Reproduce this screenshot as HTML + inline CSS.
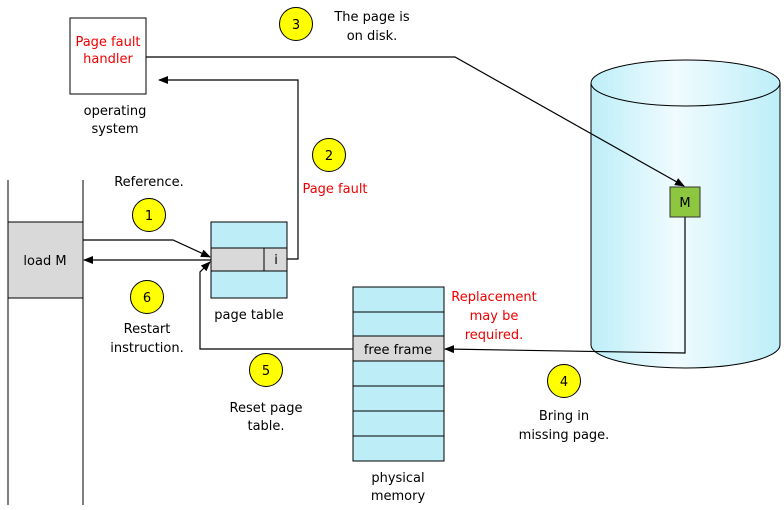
<!DOCTYPE html><html><head><style>body{margin:0;background:#fff}svg text{font-family:"DejaVu Sans","Liberation Sans",sans-serif;font-size:13px}</style></head><body>
<svg width="784" height="505" viewBox="0 0 784 505">
<defs>
<marker id="a" markerWidth="10" markerHeight="8" refX="9" refY="4" orient="auto" markerUnits="userSpaceOnUse"><path d="M0,0L10,4L0,8z" fill="#000"/></marker>
<linearGradient id="g" x1="0" x2="1"><stop offset="0" stop-color="#bdeef8"/><stop offset="0.45" stop-color="#f0fbfe"/><stop offset="1" stop-color="#bdeef8"/></linearGradient>
</defs>
<!-- cylinder -->
<path d="M591,83 L591,345 A94.5,23 0 0 0 780,345 L780,83" fill="url(#g)" stroke="#000"/>
<ellipse cx="685.5" cy="83" rx="94.5" ry="23" fill="url(#g)" stroke="#000"/>
<rect x="670" y="187" width="30" height="30" fill="#8dc63f" stroke="#333"/>
<text x="685" y="207" text-anchor="middle">M</text>
<!-- OS -->
<rect x="70" y="18" width="76" height="76" fill="#fff" stroke="#000"/>
<text x="108" y="46" text-anchor="middle" fill="#e00">Page fault</text>
<text x="108" y="63" text-anchor="middle" fill="#e00">handler</text>
<text x="115" y="115" text-anchor="middle">operating</text>
<text x="115" y="133" text-anchor="middle">system</text>
<!-- process lines -->
<line x1="8" y1="180" x2="8" y2="505" stroke="#000"/>
<line x1="83" y1="180" x2="83" y2="505" stroke="#000"/>
<rect x="8" y="222" width="75" height="76" fill="#d9d9d9" stroke="#000"/>
<text x="45" y="265" text-anchor="middle">load M</text>
<!-- page table -->
<rect x="211" y="222" width="76" height="76" fill="#bdeef8" stroke="#000"/>
<rect x="211" y="248" width="76" height="23" fill="#d9d9d9" stroke="#000"/>
<line x1="264" y1="248" x2="264" y2="271" stroke="#000"/>
<text x="276" y="264" text-anchor="middle">i</text>
<text x="249" y="319" text-anchor="middle">page table</text>
<!-- physical memory -->
<g stroke="#000" fill="#bdeef8">
<rect x="353" y="287" width="91" height="25"/><rect x="353" y="312" width="91" height="24"/>
<rect x="353" y="336" width="91" height="25" fill="#d9d9d9"/>
<rect x="353" y="361" width="91" height="25"/><rect x="353" y="386" width="91" height="25"/>
<rect x="353" y="411" width="91" height="25"/><rect x="353" y="436" width="91" height="25"/>
</g>
<text x="398" y="354" text-anchor="middle">free frame</text>
<text x="398" y="482" text-anchor="middle">physical</text>
<text x="398" y="500" text-anchor="middle">memory</text>
<!-- arrows -->
<g fill="none" stroke="#000" stroke-width="1.2">
<polyline points="83,240 173,240 210,257" marker-end="url(#a)"/>
<polyline points="211,260 84,260" marker-end="url(#a)"/>
<polyline points="287,259 298,259 298,80 159,80" marker-end="url(#a)"/>
<polyline points="146,57 455,57 684,186" marker-end="url(#a)"/>
<polyline points="685,217 685,353 445,349" marker-end="url(#a)"/>
<polyline points="353,349 200,349 200,272 210,262" marker-end="url(#a)"/>
</g>
<!-- circles -->
<g fill="#ffff00" stroke="#000">
<circle cx="149" cy="215" r="16.5"/><circle cx="329" cy="155" r="16.5"/><circle cx="296" cy="24" r="16.5"/>
<circle cx="564" cy="381" r="16.5"/><circle cx="266" cy="370" r="16.5"/><circle cx="147" cy="297" r="16.5"/>
</g>
<g text-anchor="middle">
<text x="149" y="220">1</text><text x="329" y="160">2</text><text x="296" y="29">3</text>
<text x="564" y="386">4</text><text x="266" y="375">5</text><text x="147" y="302">6</text>
<text x="149" y="186">Reference.</text>
<text x="335" y="193" fill="#e00">Page fault</text>
<text x="372" y="21">The page is</text><text x="372" y="40">on disk.</text>
<text x="494" y="301" fill="#e00">Replacement</text><text x="494" y="320" fill="#e00">may be</text><text x="494" y="339" fill="#e00">required.</text>
<text x="564" y="420">Bring in</text><text x="564" y="439">missing page.</text>
<text x="266" y="412">Reset page</text><text x="266" y="430">table.</text>
<text x="147" y="333">Restart</text><text x="147" y="352">instruction.</text>
</g>
</svg></body></html>
